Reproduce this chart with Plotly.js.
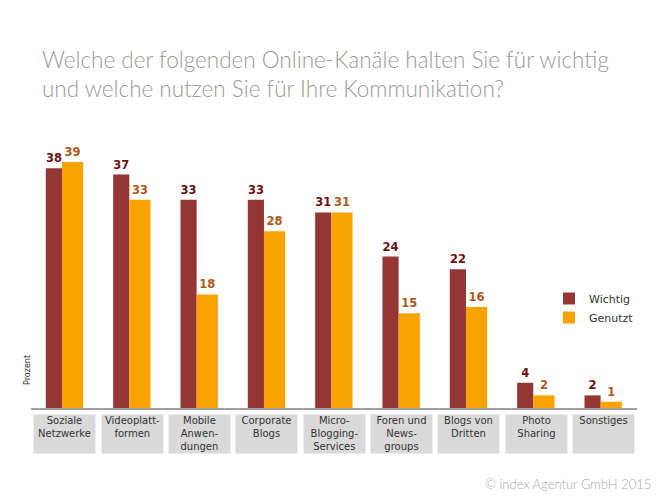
<!DOCTYPE html>
<html>
<head>
<meta charset="utf-8">
<script src="https://cdn.plot.ly/plotly-3.0.1.min.js"></script>
<style>html,body{margin:0;padding:0;background:#fff;}#chart{width:666px;height:499px;}</style>
</head>
<body>
<div id="chart"></div>
<script>
const categories = ["Soziale Netzwerke","Videoplattformen","Mobile Anwendungen","Corporate Blogs","Micro-Blogging-Services","Foren und Newsgroups","Blogs von Dritten","Photo Sharing","Sonstiges"];
const tickLabels = ["Soziale<br>Netzwerke","Videoplatt-<br>formen","Mobile<br>Anwen-<br>dungen","Corporate<br>Blogs","Micro-<br>Blogging-<br>Services","Foren und<br>News-<br>groups","Blogs von<br>Dritten","Photo<br>Sharing","Sonstiges"];
const wichtig = [38,37,33,33,31,24,22,4,2];
const genutzt = [39,33,18,28,31,15,16,2,1];
const seriesNames = ["Wichtig","Genutzt"];

const W = 666, H = 499;
const mL = 31, mR = 29, mT = 130, mB = 91;
const plotH = H - mT - mB;

const traces = [
  {type:'bar', name:seriesNames[0], x:categories, y:wichtig, width:0.24, offset:-0.28,
   marker:{color:'#943634'}, text:wichtig.map(String), textposition:'outside', cliponaxis:false,
   textfont:{family:'DejaVu Sans', size:11.5, color:'#6d1010', weight:'bold'}, hoverinfo:'x+y'},
  {type:'bar', name:seriesNames[1], x:categories, y:genutzt, width:0.315, offset:-0.04,
   marker:{color:'#f9a200'}, text:genutzt.map(String), textposition:'outside', cliponaxis:false,
   textfont:{family:'DejaVu Sans', size:11.5, color:'#b0581c', weight:'bold'}, hoverinfo:'x+y'}
];

const annotations = categories.map((c,i)=>({
  xref:'x', yref:'paper', x:c, y:-6/plotH, yanchor:'top', xanchor:'center',
  text:tickLabels[i], showarrow:false, bgcolor:'#d9d9d9', width:61, height:38,
  borderpad:0, valign:'top', align:'center',
  font:{family:'DejaVu Sans', size:10, color:'#333'}
}));
annotations.push({
  xref:'paper', yref:'paper', x:-4/606, y:(408-370)/plotH, xanchor:'center', yanchor:'middle',
  text:'Prozent', textangle:-90, showarrow:false, font:{family:'DejaVu Sans', size:8, color:'#333'}
});
annotations.push({
  xref:'paper', yref:'paper', x:(653-mL)/606, y:-(484-408)/plotH, xanchor:'right', yanchor:'middle',
  text:'© index Agentur GmbH 2015', showarrow:false, font:{family:'Lato', size:13, color:'#aaa', weight:300}
});

const layout = {
  width:W, height:H, margin:{l:mL, r:mR, t:mT, b:mB},
  paper_bgcolor:'#fff', plot_bgcolor:'#fff',
  title:{text:'Welche der folgenden Online-Kanäle halten Sie für wichtig<br>und welche nutzen Sie für Ihre Kommunikation?',
    xref:'container', yref:'container', x:42/W, xanchor:'left', y:1-68/H, yanchor:'top',
    font:{family:'Lato', size:22.5, color:'#9a9a9a', weight:300}},
  barmode:'overlay',
  xaxis:{type:'category', showticklabels:false, ticks:'', showgrid:false, zeroline:false,
    showline:true, linecolor:'#a0a0a0', linewidth:2, fixedrange:true},
  yaxis:{range:[0, plotH/6.31], visible:false, showgrid:false, zeroline:false, fixedrange:true},
  showlegend:true,
  legend:{x:(549-mL)/606, y:(408-284)/plotH, xanchor:'left', yanchor:'top',
    font:{family:'DejaVu Sans', size:11, color:'#333'}, bgcolor:'rgba(0,0,0,0)'},
  annotations:annotations
};

Plotly.newPlot('chart', traces, layout, {displayModeBar:false, staticPlot:true});
</script>
</body>
</html>
